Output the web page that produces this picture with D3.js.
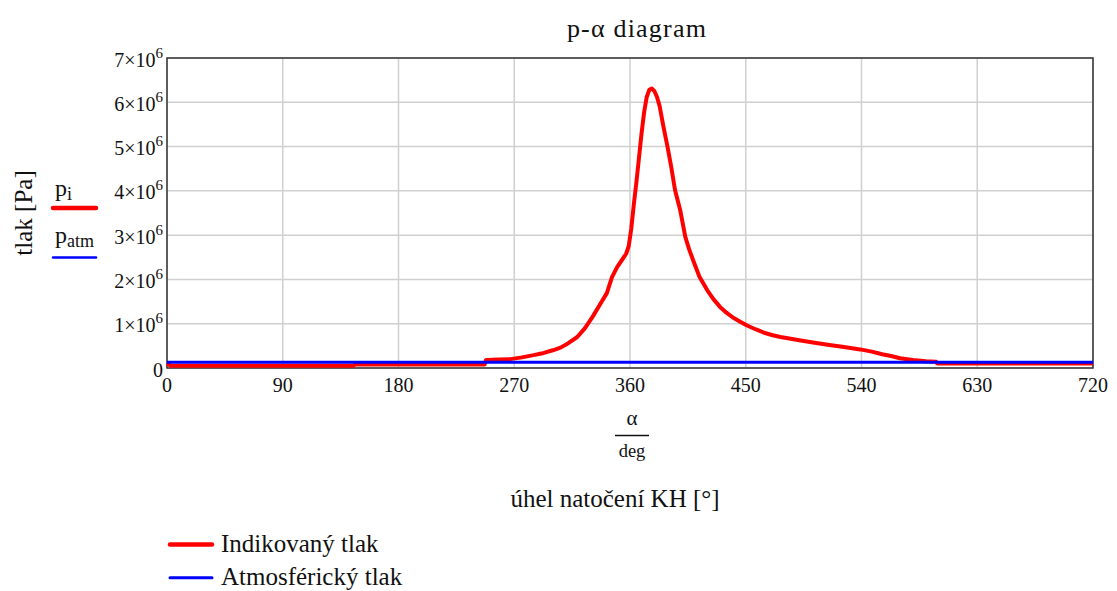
<!DOCTYPE html>
<html>
<head>
<meta charset="utf-8">
<script src="https://cdn.jsdelivr.net/npm/d3@7"></script>
<style>
  body { margin: 0; background: #fff; }
</style>
</head>
<body>
<div id="chart"></div>
<script>
// angle of crankshaft [deg]
const angles = [0, 3, 145, 146, 247, 248, 258, 267, 276, 285, 293, 300, 306, 312, 319, 325,
    331, 337, 342, 346, 350, 354, 357, 359, 361, 363, 365, 367, 369, 371, 373, 375,
    377, 379, 381, 383, 386, 389, 392, 395, 399, 403, 406, 409, 414, 420, 425, 430,
    435, 440, 446, 451, 458, 465, 471, 477, 485, 495, 506, 515, 525, 539, 548, 556,
    563, 570, 580, 590, 598, 599, 720];
// indicated pressure [MPa]
const pressures = [0.10, 0.05, 0.05, 0.08, 0.08, 0.18, 0.19, 0.20, 0.24, 0.29, 0.34, 0.40, 0.46, 0.56, 0.70, 0.90,
    1.16, 1.45, 1.69, 2.05, 2.28, 2.45, 2.58, 2.75, 3.15, 3.70, 4.20, 4.75, 5.30, 5.78, 6.12, 6.28,
    6.31, 6.25, 6.12, 5.92, 5.45, 5.02, 4.55, 4.02, 3.57, 2.96, 2.68, 2.44, 2.06, 1.76, 1.55, 1.38,
    1.25, 1.14, 1.04, 0.96, 0.87, 0.79, 0.74, 0.70, 0.66, 0.61, 0.56, 0.52, 0.48, 0.42, 0.37, 0.31,
    0.27, 0.22, 0.18, 0.15, 0.14, 0.10, 0.10];
// atmospheric pressure [MPa]
const pAtm = 0.13;

const xTicks = [0, 90, 180, 270, 360, 450, 540, 630, 720];
const yTicks = [0, 1, 2, 3, 4, 5, 6, 7];

const width = 1117;
const height = 591;
const margin = { left: 167, right: 24, top: 58, bottom: 223 };
const serif = "'Liberation Serif', 'DejaVu Serif', 'Times New Roman', serif";

const svg = d3.select("#chart")
    .append("svg")
    .attr("width", width)
    .attr("height", height)
    .style("font-family", serif)
    .style("fill", "#111");

const x = d3.scaleLinear().domain([0, 720]).range([margin.left, width - margin.right]);
const y = d3.scaleLinear().domain([0, 7e6]).range([height - margin.bottom, margin.top]);

// grid
svg.append("g")
    .selectAll("line")
    .data(xTicks)
    .enter()
    .append("line")
    .attr("x1", d => x(d)).attr("x2", d => x(d))
    .attr("y1", y(0)).attr("y2", y(7e6))
    .attr("stroke", "#d0d0d0")
    .attr("stroke-width", 1.5);

svg.append("g")
    .selectAll("line")
    .data(yTicks)
    .enter()
    .append("line")
    .attr("x1", x(0)).attr("x2", x(720))
    .attr("y1", d => y(d * 1e6)).attr("y2", d => y(d * 1e6))
    .attr("stroke", "#d0d0d0")
    .attr("stroke-width", 1.5);

// frame
svg.append("rect")
    .attr("x", x(0))
    .attr("y", y(7e6))
    .attr("width", x(720) - x(0))
    .attr("height", y(0) - y(7e6))
    .attr("fill", "none")
    .attr("stroke", "#333")
    .attr("stroke-width", 1.5);

// x tick labels
svg.append("g")
    .selectAll("text")
    .data(xTicks)
    .enter()
    .append("text")
    .attr("x", d => x(d))
    .attr("y", y(0) + 24)
    .attr("text-anchor", "middle")
    .style("font-size", "20px")
    .text(d => d);

// y tick labels
const yLab = svg.append("g")
    .selectAll("text")
    .data(yTicks)
    .enter()
    .append("text")
    .attr("x", x(0) - 4)
    .attr("y", d => y(d * 1e6) + 8.5)
    .attr("text-anchor", "end")
    .style("font-size", "20px");

yLab.filter(d => d === 0).text("0");
yLab.filter(d => d > 0).each(function (d) {
    const t = d3.select(this);
    t.append("tspan").text(d + "×10");
    t.append("tspan").attr("dy", -9).style("font-size", "15px").text("6");
});

// lines
const line = d3.line()
    .x(d => x(d[0]))
    .y(d => y(d[1] * 1e6));

svg.append("path")
    .datum(angles.map((a, i) => [a, pressures[i]]))
    .attr("fill", "none")
    .attr("stroke", "#ff0000")
    .attr("stroke-width", 4)
    .attr("stroke-linejoin", "round")
    .attr("d", line);

svg.append("path")
    .datum([[0, pAtm], [720, pAtm]])
    .attr("fill", "none")
    .attr("stroke", "#0000ff")
    .attr("stroke-width", 3)
    .attr("d", line);

// title
svg.append("text")
    .attr("x", 637)
    .attr("y", 37)
    .attr("text-anchor", "middle")
    .style("font-size", "26px")
    .style("letter-spacing", "1.2px")
    .text("p-α  diagram");

// x axis label: alpha / deg
const cx = 632;
svg.append("text")
    .attr("x", cx).attr("y", 425)
    .attr("text-anchor", "middle")
    .style("font-size", "21px")
    .text("α");
svg.append("line")
    .attr("x1", cx - 17).attr("x2", cx + 17)
    .attr("y1", 435.5).attr("y2", 435.5)
    .attr("stroke", "#111")
    .attr("stroke-width", 1.5);
svg.append("text")
    .attr("x", cx).attr("y", 457)
    .attr("text-anchor", "middle")
    .style("font-size", "18.5px")
    .text("deg");

svg.append("text")
    .attr("x", 615)
    .attr("y", 507)
    .attr("text-anchor", "middle")
    .style("font-size", "25px")
    .text("úhel natočení KH [°]");

// y axis label
svg.append("text")
    .attr("transform", "translate(32,213) rotate(-90)")
    .attr("text-anchor", "middle")
    .style("font-size", "25px")
    .text("tlak [Pa]");

// left legend (trace names)
const sideLegend = [
    { name: "p", sub: "i", color: "#ff0000", ty: 196, ly: 208 },
    { name: "p", sub: "atm", color: "#0000ff", ty: 243, ly: 257.5 }
];
sideLegend.forEach(d => {
    const t = svg.append("text")
        .attr("x", 55).attr("y", d.ty)
        .style("font-size", "24px");
    t.append("tspan").text(d.name);
    t.append("tspan").attr("dy", 4).style("font-size", "18px").text(d.sub);
    svg.append("line")
        .attr("x1", 53).attr("x2", 96)
        .attr("y1", d.ly).attr("y2", d.ly)
        .attr("stroke", d.color)
        .attr("stroke-width", d.color === "#ff0000" ? 4.5 : 2.5)
        .attr("stroke-linecap", "round");
});

// bottom legend
const legendNames = ["Indikovaný tlak", "Atmosférický tlak"];
const legendColors = ["#ff0000", "#0000ff"];
const legend = svg.selectAll(".legend")
    .data(legendNames)
    .enter()
    .append("g")
    .attr("class", "legend")
    .attr("transform", (d, i) => `translate(0,${544.5 + i * 33.3})`);

legend.append("line")
    .attr("x1", 170).attr("x2", 212)
    .attr("y1", 0).attr("y2", 0)
    .attr("stroke", (d, i) => legendColors[i])
    .attr("stroke-width", (d, i) => i === 0 ? 4.5 : 3)
    .attr("stroke-linecap", "round");

legend.append("text")
    .attr("x", 221)
    .attr("y", 7.5)
    .style("font-size", "25px")
    .text(d => d);
</script>
</body>
</html>
